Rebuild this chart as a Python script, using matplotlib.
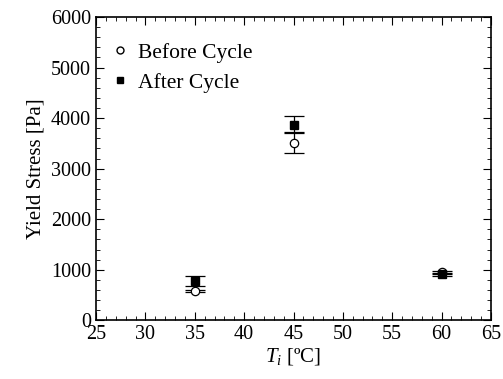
import matplotlib
matplotlib.use("Agg")
import matplotlib.pyplot as plt
from matplotlib.ticker import MultipleLocator
from matplotlib.lines import Line2D

plt.rcParams['font.family'] = ['Liberation Serif', 'DejaVu Serif']
plt.rcParams['mathtext.fontset'] = 'custom'
plt.rcParams['mathtext.it'] = 'Liberation Serif:italic'
plt.rcParams['mathtext.rm'] = 'Liberation Serif'

temps = [35, 45, 60]
before = [580, 3510, 950]
before_err = [20, 210, 25]
after = [780, 3870, 910]
after_err = [100, 170, 30]
labels = ['Before Cycle', 'After Cycle']

fig = plt.figure(figsize=(5.03, 3.79), dpi=100)
ax = fig.add_axes([0.191, 0.155, 0.785, 0.80])

ax.errorbar(temps, before, yerr=before_err, fmt='o', mfc='white', mec='black',
            color='black', ms=6, capsize=7, elinewidth=0.9, capthick=0.9,
            mew=0.9, zorder=3)
ax.errorbar(temps, after, yerr=after_err, fmt='s', mfc='black', mec='black',
            color='black', ms=6, capsize=7, elinewidth=0.9, capthick=0.9,
            zorder=3)

ax.set_xlim(25, 65)
ax.set_ylim(0, 6000)
ax.xaxis.set_major_locator(MultipleLocator(5))
ax.xaxis.set_minor_locator(MultipleLocator(1))
ax.yaxis.set_major_locator(MultipleLocator(1000))
ax.yaxis.set_minor_locator(MultipleLocator(200))
ax.tick_params(which='both', direction='in', top=True, right=True, labelsize=14.5)
ax.tick_params(which='major', length=6)
ax.tick_params(which='minor', length=3)
for s in ax.spines.values():
    s.set_linewidth(1.2)

ax.set_xlabel(r'$T_i$ [ºC]', fontsize=15, labelpad=1)
ax.set_ylabel('Yield Stress [Pa]', fontsize=15, labelpad=4)

h = [Line2D([], [], marker='o', ls='none', mfc='white', mec='black', ms=5),
     Line2D([], [], marker='s', ls='none', mfc='black', mec='black', ms=5)]
ax.legend(h, labels, loc='upper left', bbox_to_anchor=(-0.005, 0.965), frameon=False,
          fontsize=15.5, handlelength=1.0, handletextpad=0.35, borderaxespad=0.3,
          labelspacing=0.45)

fig.savefig('out.png', dpi=100)
